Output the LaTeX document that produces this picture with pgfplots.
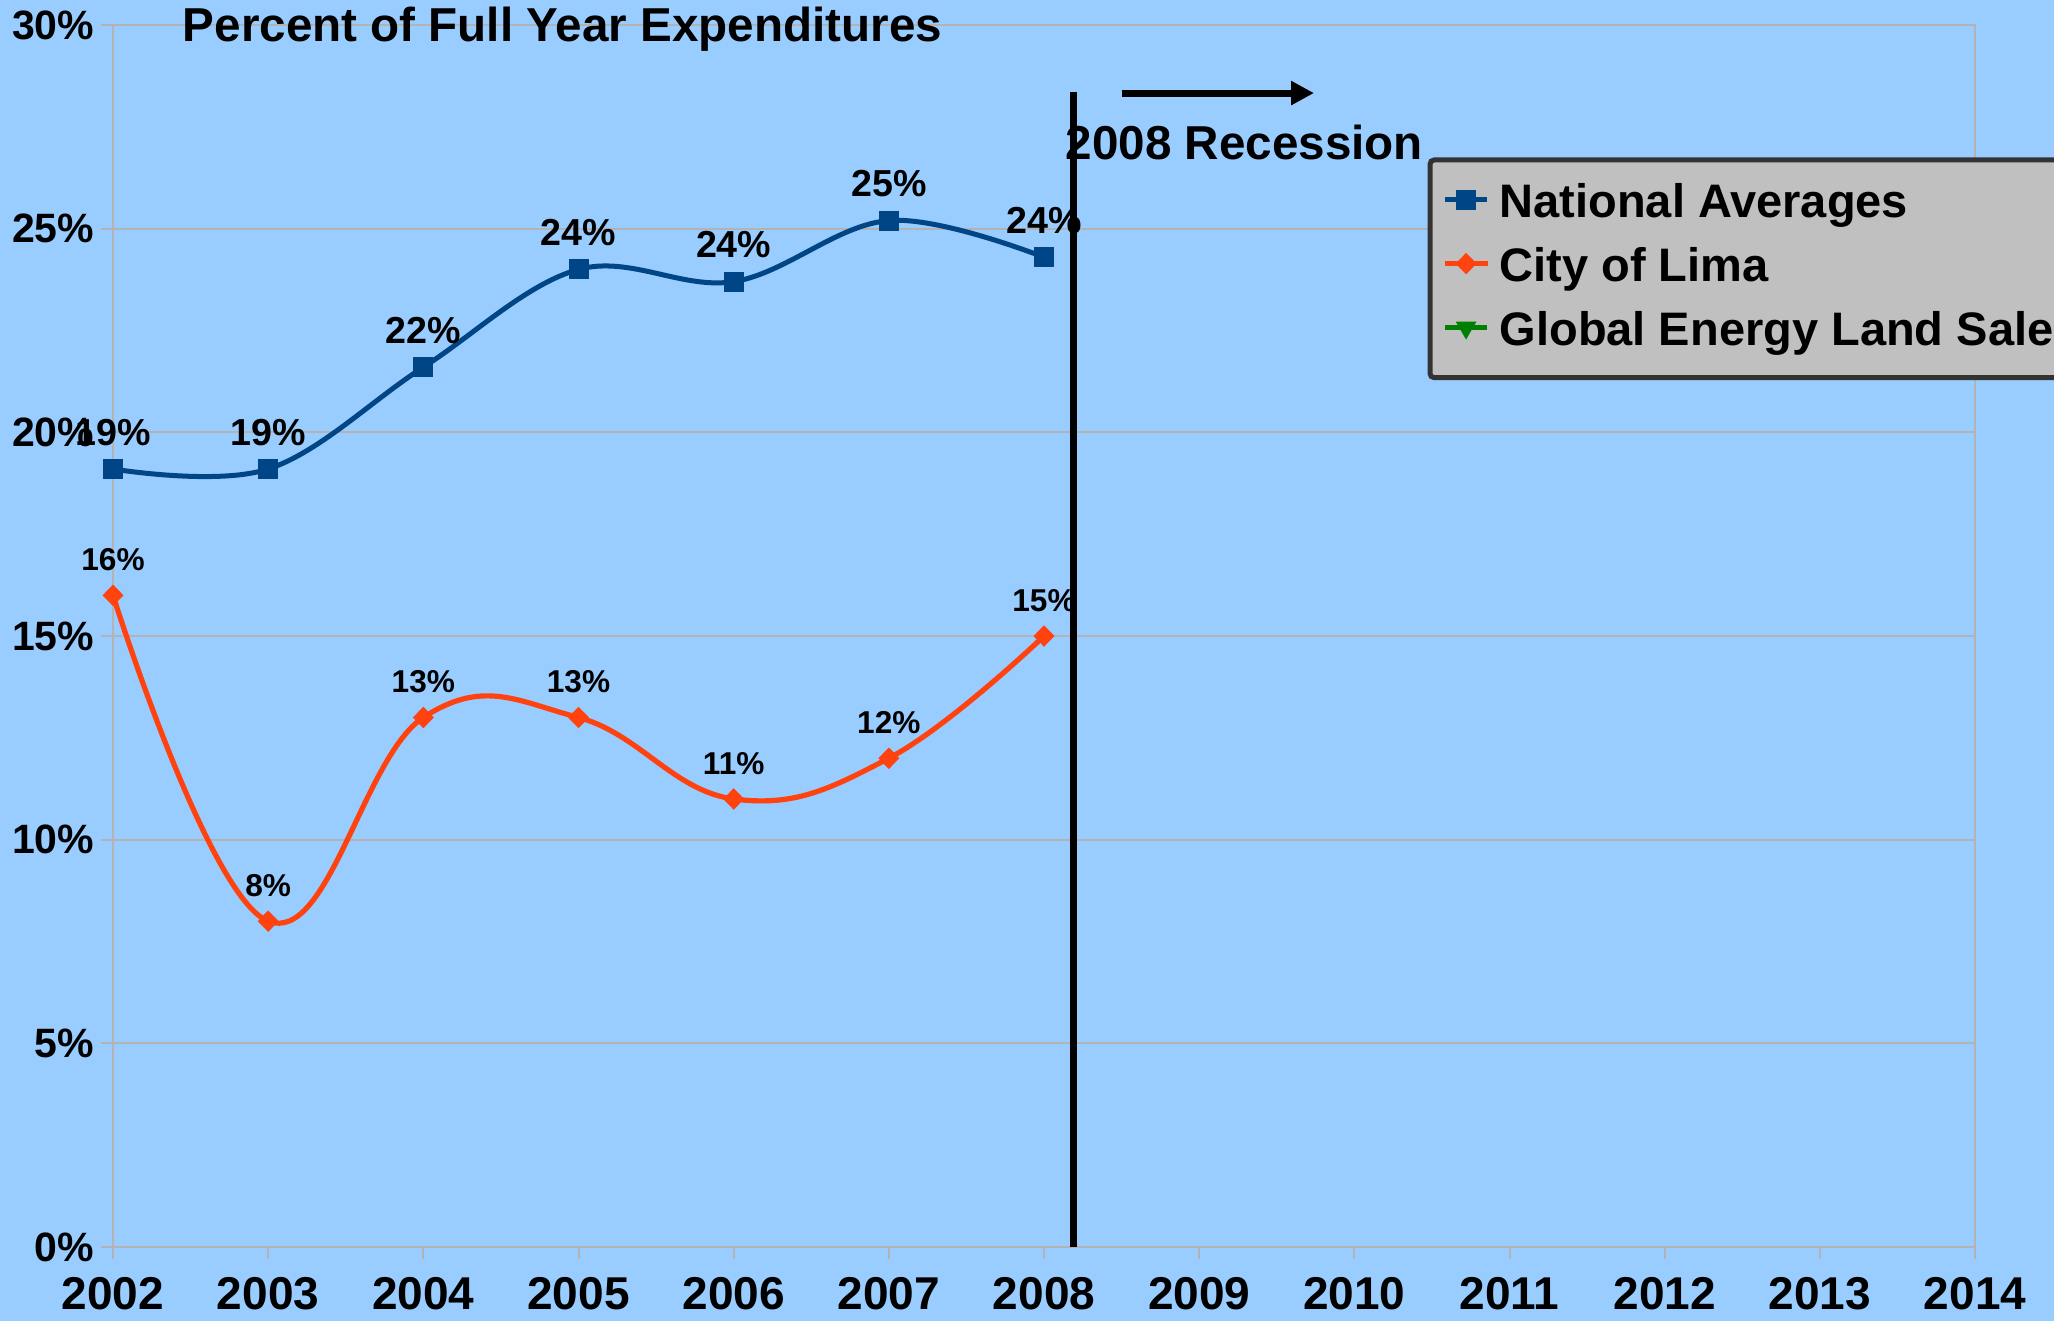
\documentclass[border=0pt]{standalone}
\usepackage{fontspec}
\setmainfont{Liberation Sans}
\usepackage{pgfplots}
\pgfplotsset{compat=1.18}
\usetikzlibrary{arrows.meta}
\definecolor{bgblue}{HTML}{99CCFF}
\definecolor{natblue}{HTML}{004586}
\definecolor{limaorange}{HTML}{FF420E}
\definecolor{geogreen}{HTML}{008000}
\definecolor{gridgray}{HTML}{B3B3B3}
\definecolor{legfill}{HTML}{C0C0C0}
\definecolor{legdraw}{HTML}{333333}
\newcommand{\fs}[1]{\fontsize{#1}{#1}\selectfont\bfseries}

\begin{document}
\begin{tikzpicture}
\useasboundingbox (0,0) rectangle (513.5pt,-330.25pt);
\clip (0,0) rectangle (513.5pt,-330.25pt);
\fill[bgblue] (0,0) rectangle (513.5pt,-330.25pt);
\begin{axis}[
  at={(28.25pt,-311.75pt)}, anchor=south west,
  scale only axis, width=465.5pt, height=305.5pt,
  xmin=2002, xmax=2014, ymin=0, ymax=30,
  clip=false,
  xtick={2002,2003,2004,2005,2006,2007,2008,2009,2010,2011,2012,2013,2014},
  xticklabels={2002,2003,2004,2005,2006,2007,2008,2009,2010,2011,2012,2013,2014},
  ytick={0,5,10,15,20,25,30},
  yticklabels={0\%,5\%,10\%,15\%,20\%,25\%,30\%},
  xticklabel style={font=\fs{11.5}, inner sep=0pt, yshift=-4.5pt},
  yticklabel style={font=\fs{10.25}, inner sep=0pt, xshift=-1.5pt},
  ymajorgrids,
  major grid style={gridgray, line width=0.5pt},
  axis line style={gridgray, line width=0.5pt},
  tick style={gridgray, line width=0.5pt},
  major tick length=3pt, tick align=outside,
  xtick pos=bottom, ytick pos=left,
  legend cell align=left,
  legend image code/.code={\draw[mark repeat=2,mark phase=2,#1] plot coordinates {(0pt,1.3pt) (5.25pt,1.3pt) (10.5pt,1.3pt)};},
  legend style={at={(0.706,0.8916)}, anchor=north west, fill=legfill, draw=legdraw,
    line width=1.25pt, rounded corners=1pt, inner xsep=3.1pt, inner ysep=5pt,
    font=\fs{11.75}, row sep=3.6pt,
    nodes={inner sep=0pt, text height=9.4pt, text depth=3pt},
    /tikz/every odd column/.append style={column sep=2.5pt}},
]
\addplot[natblue, line width=1.25pt, smooth, tension=0.6, mark=square*, mark size=2.3pt,
  mark options={solid, line width=0.4pt},
  nodes near coords={\pgfplotspointmeta\%}, point meta=explicit symbolic,
  every node near coord/.append style={font=\fs{9.4}, text=black, anchor=base, yshift=6pt, inner sep=0pt}]
  coordinates {(2002,19.1)[19] (2003,19.1)[19] (2004,21.6)[22] (2005,24.0)[24] (2006,23.7)[24] (2007,25.2)[25] (2008,24.3)[24]};
\addlegendentry{National Averages}
\addplot[limaorange, line width=1.3pt, smooth, tension=0.7, mark=diamond*, mark size=2.4pt,
  mark options={solid, line width=0.4pt, xscale=1.3},
  nodes near coords={\pgfplotspointmeta\%}, point meta=explicit symbolic,
  every node near coord/.append style={font=\fs{7.9}, text=black, anchor=base, yshift=6.2pt, inner sep=0pt}]
  coordinates {(2002,16)[16] (2003,8)[8] (2004,13)[13] (2005,13)[13] (2006,11)[11] (2007,12)[12] (2008,15)[15]};
\addlegendentry{City of Lima}
\addlegendimage{geogreen, line width=1.25pt, mark=triangle*, mark size=2.6pt, mark options={solid, line width=0.4pt, rotate=180}}
\addlegendentry{Global Energy Land Sale}
\draw[black, line width=1.9pt] (axis cs:2008.19,0) -- (axis cs:2008.19,28.36);
\draw[black, line width=1.75pt, -{Triangle[length=5.75pt,width=5.75pt]}] (axis cs:2008.50,28.33) -- (axis cs:2009.74,28.33);
\node[anchor=base west, inner sep=0pt, font=\fs{11.9}] at (axis cs:2008.135,26.71) {2008 Recession};
\end{axis}
\node[anchor=base west, inner sep=0pt, font=\fs{11.9}] at (45.5pt,-10.25pt) {Percent of Full Year Expenditures};
\end{tikzpicture}
\end{document}
